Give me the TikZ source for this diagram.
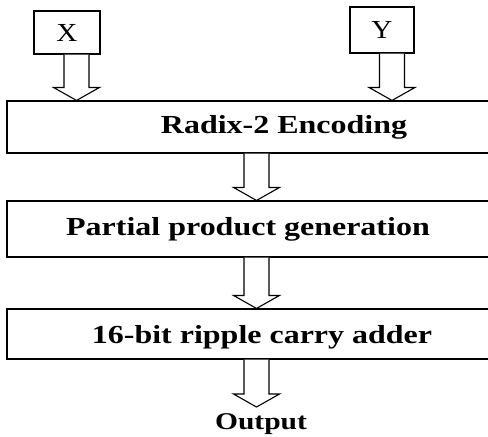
\documentclass[tikz,border=0pt]{standalone}
\usepackage{fontspec}
\setmainfont{Liberation Serif}
\newfontfamily\widefont{Liberation Serif}[FakeStretch=1.23]
\newfontfamily\inputfont{Liberation Serif}[FakeStretch=1.12]
\usetikzlibrary{calc,positioning}
\newcommand{\ShaftW}{25pt}
\newcommand{\HeadW}{46pt}
\newcommand{\HeadL}{13pt}
\tikzset{
  inbox/.style={draw, line width=1.1pt, minimum width=66pt, minimum height=43pt, inner sep=0pt, font=\inputfont\fontsize{26}{28}\selectfont},
  stage/.style={draw, line width=1.1pt, minimum width=499pt, inner sep=0pt},
  stagetext/.style={font=\widefont\bfseries\fontsize{26}{28}\selectfont},
  blockArrow/.style={draw, line width=1.1pt, fill=white, line join=miter}
}
% hollow block arrow, tip straight below the start point
\newcommand{\BlockArrow}[2]{%
  \draw[blockArrow] let \p1=(#1), \p2=(#2) in
    (\x1-\ShaftW/2,\y1) -- (\x1-\ShaftW/2,\y2+\HeadL) -- (\x1-\HeadW/2,\y2+\HeadL)
    -- (\x1,\y2) -- (\x1+\HeadW/2,\y2+\HeadL) -- (\x1+\ShaftW/2,\y2+\HeadL)
    -- (\x1+\ShaftW/2,\y1);
}

\begin{document}
\begin{tikzpicture}[x=1pt,y=-1pt]
  \useasboundingbox (0,0) rectangle (488,437);
  % inputs
  \node[inbox] (X) at (67,32.5) {X};
  \node[inbox, minimum width=64pt, minimum height=46pt] (Y) at (382,30) {Y};
  % stages
  \node[stage, minimum height=52pt,
    label={[stagetext,xshift=27.5pt]center:Radix-2 Encoding}] (enc) at (256.5,127) {};
  \node[stage, minimum height=56pt,
    label={[stagetext,xshift=-8.5pt]center:Partial product generation}] (pp) at (256.5,229) {};
  \node[stage, minimum height=50pt,
    label={[stagetext,xshift=5.5pt,yshift=-3pt]center:16-bit ripple carry adder}] (rca) at (256.5,334) {};
  \node[stagetext, font=\widefont\bfseries\fontsize{24}{26}\selectfont,
    anchor=north, inner sep=1pt] (out) at (261,412) {Output};
  % data flow
  \BlockArrow{[xshift=9.5pt]X.south}{enc.north}
  \BlockArrow{[xshift=10pt]Y.south}{enc.north}
  \BlockArrow{enc.south}{pp.north}
  \BlockArrow{pp.south}{rca.north}
  \BlockArrow{rca.south}{[yshift=5pt]out.north}
\end{tikzpicture}
\end{document}
